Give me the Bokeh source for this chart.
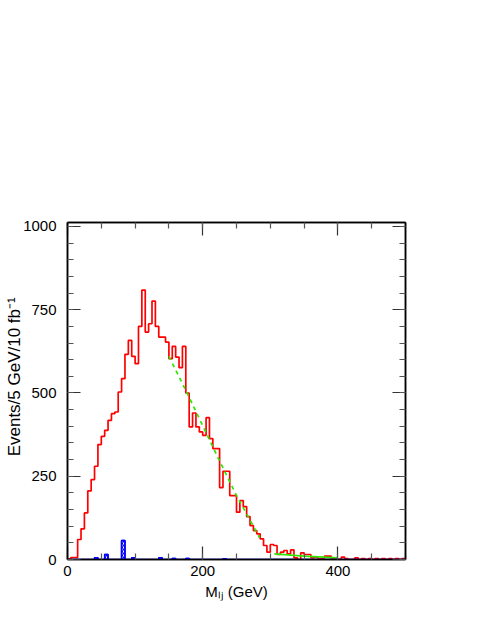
import numpy as np
from bokeh.plotting import figure
from bokeh.models import Range1d, LinearAxis, FixedTicker, CustomJSTickFormatter
from bokeh.embed import file_html
from bokeh.resources import INLINE

# ---- data ----
bin_width = 5
x_start = 0
red_counts = [2, 6, 6, 60, 92, 140, 206, 240, 280, 345,
              370, 388, 418, 438, 443, 503, 543, 616, 658, 610,
              588, 700, 809, 683, 708, 776, 700, 668, 668, 653,
              603, 640, 608, 576, 640, 500, 398, 440, 398, 383,
              373, 426, 363, 333, 333, 216, 265, 265, 192, 192,
              142, 177, 159, 129, 102, 87, 77, 62, 42, 22,
              45, 42, 15, 22, 27, 17, 29, 5, 0, 20,
              15, 15, 5, 7, 3, 3, 10, 10, 3, 1,
              0, 7, 3, 0, 0, 5, 0, 3, 0, 3,
              0, 3, 0, 3, 0, 3, 0, 3, 0, 3]
blue_counts = [0, 0, 0, 0, 0, 0, 0, 0, 5, 0,
               0, 15, 0, 0, 0, 0, 57, 0, 0, 5,
               0, 0, 0, 0, 0, 0, 0, 5, 0, 0,
               0, 3, 0, 0, 0, 3, 0, 0, 0, 0,
               0, 0, 0, 0, 0, 0, 2, 0, 0, 0] + [0] * 50
fit_dashed_x = [150, 175, 200, 225, 250, 270, 284]
fit_dashed_y = [610, 508, 402, 296, 192, 118, 66]
fit_solid_x = [306, 350, 400]
fit_solid_y = [17, 10, 5]
x_major = [0, 200, 400]
x_minor = list(range(0, 501, 50))
y_major = [0, 250, 500, 750, 1000]
y_minor = list(range(0, 1001, 50))
x_title = "M\u2097\u2C7C (GeV)"
y_title = "\u00A0" * 6 + "Events/5 GeV/10 fb\u207B\u00B9"

edges = [x_start + i * bin_width for i in range(len(red_counts) + 1)]

FONT = "Liberation Sans"

p = figure(frame_width=338, frame_height=337,
           x_range=Range1d(0, 500), y_range=Range1d(0, 1012),
           output_backend="svg", toolbar_location=None,
           min_border_left=67, min_border_top=222,
           min_border_right=60, min_border_bottom=50)
p.grid.visible = False
p.outline_line_color = "black"
p.outline_line_width = 1.5
p.background_fill_color = "white"
p.border_fill_color = "white"

# red histogram
p.step(x=edges, y=red_counts + [red_counts[-1]], mode="after",
       line_color="#ff0000", line_width=1.7)

# green fit
p.line(fit_dashed_x, fit_dashed_y, line_color="#2ee600", line_width=1.7, line_dash="4 4")
p.line(fit_solid_x, fit_solid_y, line_color="#2ee600", line_width=1.7)

# blue histogram
nz = [i for i, v in enumerate(blue_counts) if v > 0]
p.quad(left=[edges[i] for i in nz], right=[edges[i + 1] for i in nz],
       top=[blue_counts[i] for i in nz], bottom=0,
       fill_alpha=0, hatch_pattern="/", hatch_color="#0000ff", hatch_scale=4,
       hatch_weight=1, line_color="#0000ff", line_width=1.5)
p.step(x=edges, y=blue_counts + [blue_counts[-1]], mode="after",
       line_color="#0000ff", line_width=1.5)

def style_axis(ax, major, minor, labels=True, standoff=6):
    ax.ticker = FixedTicker(ticks=major, minor_ticks=minor)
    ax.major_tick_in = 13
    ax.major_tick_out = 0
    ax.minor_tick_in = 6
    ax.minor_tick_out = 0
    ax.axis_line_color = "black"
    ax.axis_line_width = 1.5
    ax.major_tick_line_color = "#333333"
    ax.major_tick_line_width = 1.2
    ax.minor_tick_line_color = "#555555"
    ax.minor_tick_line_width = 1.2
    ax.major_label_text_font = FONT
    ax.major_label_text_font_size = "15px"
    ax.major_label_text_color = "black"
    ax.major_label_standoff = standoff
    ax.axis_label_text_font = FONT
    ax.axis_label_text_font_size = "15px"
    ax.axis_label_text_font_style = "normal"
    ax.axis_label_text_color = "black"
    if not labels:
        ax.formatter = CustomJSTickFormatter(code="return ''")
        ax.major_label_text_font_size = "1px"

style_axis(p.xaxis[0], x_major, x_minor, standoff=6)
style_axis(p.yaxis[0], y_major, y_minor, standoff=11)
p.xaxis[0].axis_label = x_title
p.xaxis[0].axis_label_standoff = 4
p.yaxis[0].axis_label = y_title
p.yaxis[0].axis_label_standoff = -4
p.yaxis[0].axis_label_text_font_size = "17px"

top = LinearAxis()
right = LinearAxis()
style_axis(top, x_major, x_minor, labels=False)
style_axis(right, y_major, y_minor, labels=False)
p.add_layout(top, "above")
p.add_layout(right, "right")

open("out.html", "w").write(file_html(p, INLINE))
